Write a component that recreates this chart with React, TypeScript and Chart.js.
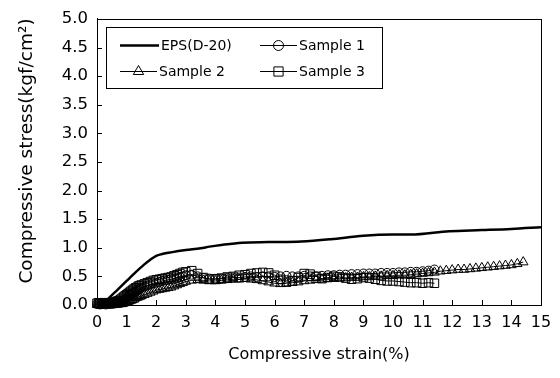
import React, { useEffect, useRef } from "react";
import { Chart, registerables } from "chart.js";

Chart.register(...registerables);

// ---- Data ----
const EPS_X = [0, 0.15, 0.4, 0.7, 1.0, 1.3, 1.6, 1.8, 2.0, 2.2, 2.5, 3.0, 3.5, 3.8, 4.2, 4.9, 5.8, 6.9, 7.9, 9.0, 10.0, 10.6, 11.9, 13.0, 14.0, 15.0];
const EPS_Y = [0, 0, 0.12, 0.27, 0.42, 0.57, 0.71, 0.79, 0.86, 0.89, 0.92, 0.96, 0.99, 1.02, 1.05, 1.09, 1.1, 1.11, 1.15, 1.21, 1.23, 1.23, 1.29, 1.31, 1.33, 1.36];

const S1_X = [0, 0.05, 0.1, 0.15, 0.2, 0.25, 0.3, 0.35, 0.4, 0.45, 0.5, 0.55, 0.6, 0.65, 0.7, 0.75, 0.8, 0.85, 0.9, 0.95, 1.0, 1.05, 1.1, 1.15, 1.2, 1.25, 1.3, 1.35, 1.4, 1.45, 1.5,
  1.6, 1.7, 1.8, 1.9, 2.0, 2.1, 2.2, 2.3, 2.4, 2.5, 2.6, 2.7, 2.8, 2.9, 3.0,
  3.2, 3.4, 3.6, 3.8, 4.0, 4.2, 4.4, 4.6, 4.8, 5.0, 5.2, 5.4, 5.6, 5.8, 6.0, 6.2, 6.4, 6.6, 6.8, 7.0, 7.2, 7.4, 7.6, 7.8, 8.0, 8.2, 8.4, 8.6, 8.8, 9.0, 9.2, 9.4, 9.6, 9.8, 10.0, 10.2, 10.4, 10.6, 10.8, 11.0, 11.2, 11.4];
const S1_Y = [0.02, 0.03, 0.01, 0.02, 0.02, 0.03, 0.01, 0.02, 0.02, 0.03, 0.02, 0.03, 0.03, 0.04, 0.04, 0.05, 0.06, 0.07, 0.09, 0.1, 0.12, 0.14, 0.16, 0.18, 0.2, 0.22, 0.24, 0.25, 0.27, 0.28, 0.3,
  0.32, 0.34, 0.36, 0.38, 0.39, 0.4, 0.42, 0.43, 0.44, 0.45, 0.46, 0.48, 0.49, 0.5, 0.52,
  0.53, 0.5, 0.47, 0.46, 0.45, 0.46, 0.47, 0.48, 0.48, 0.49, 0.5, 0.49, 0.5, 0.5, 0.49, 0.5, 0.51, 0.5, 0.5, 0.51, 0.5, 0.5, 0.51, 0.52, 0.52, 0.53, 0.53, 0.54, 0.54, 0.55, 0.55, 0.55, 0.56, 0.56, 0.56, 0.57, 0.57, 0.58, 0.58, 0.59, 0.6, 0.62];

const S2_X = [0, 0.05, 0.1, 0.15, 0.2, 0.25, 0.3, 0.35, 0.4, 0.45, 0.5, 0.55, 0.6, 0.65, 0.7, 0.75, 0.8, 0.85, 0.9, 0.95, 1.0, 1.05, 1.1, 1.15, 1.2, 1.25, 1.3, 1.35, 1.4, 1.45, 1.5,
  1.6, 1.7, 1.8, 1.9, 2.0, 2.1, 2.2, 2.3, 2.4, 2.5, 2.6, 2.7, 2.8, 2.9, 3.0,
  3.2, 3.4, 3.6, 3.8, 4.0, 4.2, 4.4, 4.6, 4.8, 5.0, 5.2, 5.4, 5.6, 5.8, 6.0, 6.2, 6.4, 6.6, 6.8, 7.0, 7.2, 7.4, 7.6, 7.8, 8.0, 8.2, 8.4, 8.6, 8.8, 9.0, 9.2, 9.4, 9.6, 9.8, 10.0, 10.2, 10.4, 10.6, 10.8, 11.0, 11.2, 11.4,
  11.6, 11.8, 12.0, 12.2, 12.4, 12.6, 12.8, 13.0, 13.2, 13.4, 13.6, 13.8, 14.0, 14.2, 14.4];
const S2_Y = [0.01, 0.0, 0.01, 0.01, 0.0, 0.01, 0.01, 0.0, 0.01, 0.01, 0.0, 0.01, 0.01, 0.01, 0.01, 0.02, 0.02, 0.02, 0.03, 0.04, 0.05, 0.06, 0.07, 0.08, 0.09, 0.1, 0.12, 0.13, 0.14, 0.15, 0.16,
  0.18, 0.2, 0.22, 0.24, 0.26, 0.27, 0.28, 0.29, 0.3, 0.31, 0.33, 0.35, 0.37, 0.39, 0.41,
  0.43, 0.44, 0.43, 0.42, 0.42, 0.43, 0.44, 0.45, 0.45, 0.46, 0.45, 0.44, 0.42, 0.4, 0.38, 0.37, 0.38, 0.39, 0.4, 0.42, 0.43, 0.44, 0.45, 0.46, 0.46, 0.47, 0.47, 0.48, 0.48, 0.49, 0.49, 0.5, 0.5, 0.51, 0.51, 0.52, 0.52, 0.53, 0.54, 0.55, 0.56, 0.57,
  0.59, 0.6, 0.61, 0.62, 0.62, 0.63, 0.64, 0.65, 0.66, 0.67, 0.68, 0.69, 0.7, 0.72, 0.75];

const S3_X = [0, 0.05, 0.1, 0.15, 0.2, 0.25, 0.3, 0.35, 0.4, 0.45, 0.5, 0.55, 0.6, 0.65, 0.7, 0.75, 0.8, 0.85, 0.9, 0.95, 1.0, 1.05, 1.1, 1.15, 1.2, 1.25, 1.3, 1.35, 1.4, 1.45, 1.5,
  1.6, 1.7, 1.8, 1.9, 2.0, 2.1, 2.2, 2.3, 2.4, 2.5, 2.6, 2.7, 2.8, 2.9, 3.0,
  3.2, 3.4, 3.6, 3.8, 4.0, 4.2, 4.4, 4.6, 4.8, 5.0, 5.2, 5.4, 5.6, 5.8, 6.0, 6.2, 6.4, 6.6, 6.8, 7.0, 7.2, 7.4, 7.6, 7.8, 8.0, 8.2, 8.4, 8.6, 8.8, 9.0, 9.2, 9.4, 9.6, 9.8, 10.0, 10.2, 10.4, 10.6, 10.8, 11.0, 11.2, 11.4];
const S3_Y = [0.03, 0.04, 0.02, 0.03, 0.03, 0.04, 0.04, 0.03, 0.03, 0.04, 0.04, 0.05, 0.05, 0.06, 0.07, 0.08, 0.1, 0.12, 0.14, 0.16, 0.18, 0.2, 0.22, 0.24, 0.26, 0.28, 0.3, 0.31, 0.33, 0.34, 0.35,
  0.37, 0.39, 0.41, 0.43, 0.44, 0.45, 0.46, 0.47, 0.48, 0.49, 0.51, 0.53, 0.55, 0.57, 0.58,
  0.6, 0.55, 0.48, 0.45, 0.46, 0.47, 0.49, 0.5, 0.52, 0.53, 0.55, 0.56, 0.57, 0.56, 0.52, 0.45, 0.4, 0.42, 0.48, 0.55, 0.54, 0.5, 0.46, 0.48, 0.5, 0.49, 0.47, 0.45, 0.46, 0.48, 0.47, 0.45, 0.43, 0.42, 0.42, 0.41, 0.4, 0.39, 0.39, 0.38, 0.39, 0.38];

const SERIES_NAMES = ["EPS(D-20)", "Sample 1", "Sample 2", "Sample 3"];
const X_TITLE = "Compressive strain(%)";
const Y_TITLE = "Compressive stress(kgf/cm²)";

const FONT = "'DejaVu Sans', sans-serif";

function pts(xs: number[], ys: number[]) {
  return xs.map((x, i) => ({ x, y: ys[i] }));
}

function drawMarker(ctx: CanvasRenderingContext2D, style: string, x: number, y: number, r: number) {
  ctx.beginPath();
  if (style === "circle") {
    ctx.arc(x, y, r, 0, Math.PI * 2);
  } else if (style === "triangle") {
    let rad = 0;
    ctx.moveTo(x + Math.sin(rad) * r, y - Math.cos(rad) * r);
    rad += (2 * Math.PI) / 3;
    ctx.lineTo(x + Math.sin(rad) * r, y - Math.cos(rad) * r);
    rad += (2 * Math.PI) / 3;
    ctx.lineTo(x + Math.sin(rad) * r, y - Math.cos(rad) * r);
    ctx.closePath();
  } else if (style === "rect") {
    const s = r * Math.SQRT1_2;
    ctx.rect(x - s, y - s, 2 * s, 2 * s);
  }
  ctx.stroke();
}

const framePlugin = {
  id: "frame",
  afterDraw(chart: any) {
    const { ctx, chartArea, scales } = chart;
    ctx.save();
    ctx.strokeStyle = "#000";
    ctx.lineWidth = 1;
    // box
    ctx.strokeRect(Math.round(chartArea.left) + 0.5, Math.round(chartArea.top) + 0.5,
      Math.round(chartArea.right - chartArea.left), Math.round(chartArea.bottom - chartArea.top));
    // inward ticks
    ctx.beginPath();
    scales.x.ticks.forEach((t: any) => {
      const px = Math.round(scales.x.getPixelForValue(t.value)) + 0.5;
      ctx.moveTo(px, chartArea.bottom);
      ctx.lineTo(px, chartArea.bottom - 5);
    });
    scales.y.ticks.forEach((t: any) => {
      const py = Math.round(scales.y.getPixelForValue(t.value)) + 0.5;
      ctx.moveTo(chartArea.left, py);
      ctx.lineTo(chartArea.left + 5, py);
    });
    ctx.stroke();

    // y-axis title
    ctx.save();
    ctx.fillStyle = "#000";
    ctx.font = `18.5px ${FONT}`;
    ctx.textAlign = "center";
    ctx.textBaseline = "middle";
    ctx.translate(27, 151);
    ctx.rotate(-Math.PI / 2);
    ctx.fillText(Y_TITLE, 0, 0);
    ctx.restore();

    // legend
    const lx = 106, ly = 27, lw = 276, lh = 61;
    ctx.fillStyle = "#fff";
    ctx.fillRect(lx, ly, lw, lh);
    ctx.strokeRect(lx + 0.5, ly + 0.5, lw, lh);
    ctx.fillStyle = "#000";
    ctx.font = `14px ${FONT}`;
    ctx.textBaseline = "middle";
    ctx.textAlign = "left";
    const items = [
      { name: SERIES_NAMES[0], x0: 120, x1: 159, y: 45, style: "", w: 2.5 },
      { name: SERIES_NAMES[1], x0: 260, x1: 297, y: 45, style: "circle", w: 1 },
      { name: SERIES_NAMES[2], x0: 120, x1: 157, y: 71, style: "triangle", w: 1 },
      { name: SERIES_NAMES[3], x0: 260, x1: 297, y: 71, style: "rect", w: 1 },
    ];
    items.forEach((it) => {
      ctx.lineWidth = it.w;
      ctx.beginPath();
      ctx.moveTo(it.x0, it.y + 0.5);
      ctx.lineTo(it.x1, it.y + 0.5);
      ctx.stroke();
      ctx.lineWidth = 1;
      if (it.style) {
        const cx = (it.x0 + it.x1) / 2;
        const r = it.style === "rect" ? 6.5 : it.style === "triangle" ? 6 : 5;
        drawMarker(ctx, it.style, cx, it.y + 0.5, r);
      }
      ctx.fillText(it.name, it.x1 + 2, it.y + 1);
    });
    ctx.restore();
  },
};

export default function App() {
  const ref = useRef<HTMLCanvasElement | null>(null);
  useEffect(() => {
    document.body.style.margin = "0";
    const canvas = ref.current!;
    const sampleCommon = {
      showLine: true,
      borderColor: "#000",
      borderWidth: 1,
      pointBorderColor: "#000",
      pointBackgroundColor: "rgba(0,0,0,0)",
      pointBorderWidth: 1,
      clip: false as const,
    };
    const chart = new Chart(canvas, {
      type: "scatter",
      data: {
        datasets: [
          {
            label: SERIES_NAMES[0],
            data: pts(EPS_X, EPS_Y),
            showLine: true,
            borderColor: "#000",
            borderWidth: 2.5,
            pointRadius: 0,
            cubicInterpolationMode: "monotone",
            clip: false,
            order: 0,
          } as any,
          { ...sampleCommon, label: SERIES_NAMES[1], data: pts(S1_X, S1_Y), pointStyle: "circle", pointRadius: 4.5, order: 2 } as any,
          { ...sampleCommon, label: SERIES_NAMES[2], data: pts(S2_X, S2_Y), pointStyle: "triangle", pointRadius: 5.5, order: 3 } as any,
          { ...sampleCommon, label: SERIES_NAMES[3], data: pts(S3_X, S3_Y), pointStyle: "rect", pointRadius: 6, order: 1 } as any,
        ],
      },
      options: {
        responsive: false,
        animation: false,
        devicePixelRatio: 1,
        layout: { padding: { top: 13, right: 19, left: 0, bottom: 0 } },
        plugins: { legend: { display: false }, tooltip: { enabled: false } },
        scales: {
          x: {
            type: "linear",
            min: 0,
            max: 15,
            ticks: { stepSize: 1, color: "#000", font: { family: FONT, size: 16 }, padding: 8, maxRotation: 0 },
            grid: { drawOnChartArea: false, drawTicks: false },
            border: { display: true, color: "#000" },
            title: { display: true, text: X_TITLE, color: "#000", font: { family: FONT, size: 16 }, padding: { top: 4, bottom: 14 } },
            afterFit: (s: any) => { s.height = 73; },
          },
          y: {
            type: "linear",
            min: 0,
            max: 5,
            ticks: { stepSize: 0.5, color: "#000", font: { family: FONT, size: 16.5 }, padding: 9, callback: (v: any) => Number(v).toFixed(1) },
            grid: { drawOnChartArea: false, drawTicks: false },
            border: { display: true, color: "#000" },
            title: { display: false },
            afterFit: (s: any) => { s.width = 97; },
          },
        },
      },
      plugins: [framePlugin],
    });
    return () => chart.destroy();
  }, []);
  return <canvas ref={ref} width={560} height={378} style={{ display: "block" }} />;
}
